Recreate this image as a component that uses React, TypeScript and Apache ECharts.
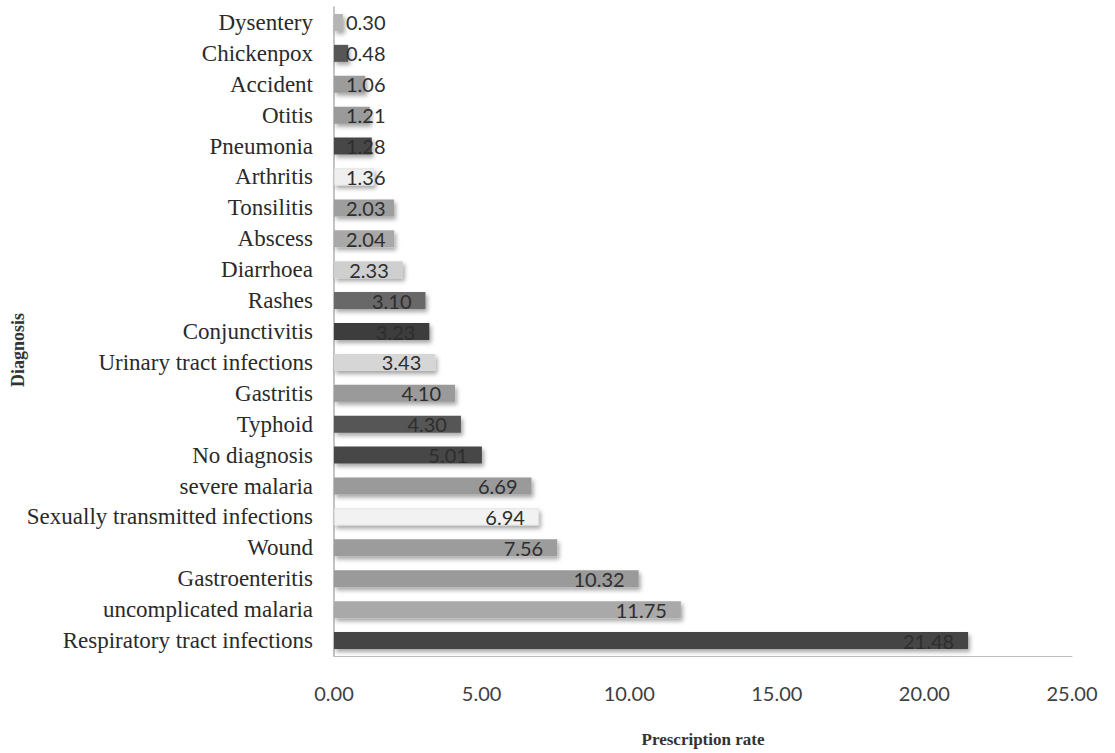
import React, { useEffect, useRef } from "react";
import * as echarts from "echarts";

const categories = [
  "Dysentery",
  "Chickenpox",
  "Accident",
  "Otitis",
  "Pneumonia",
  "Arthritis",
  "Tonsilitis",
  "Abscess",
  "Diarrhoea",
  "Rashes",
  "Conjunctivitis",
  "Urinary tract infections",
  "Gastritis",
  "Typhoid",
  "No diagnosis",
  "severe malaria",
  "Sexually transmitted infections",
  "Wound",
  "Gastroenteritis",
  "uncomplicated malaria",
  "Respiratory tract infections",
];

const values = [
  0.3, 0.48, 1.06, 1.21, 1.28, 1.36, 2.03, 2.04, 2.33, 3.1, 3.23, 3.43, 4.1, 4.3,
  5.01, 6.69, 6.94, 7.56, 10.32, 11.75, 21.48,
];

const barColors = [
  "#b5b5b5", "#575757", "#9c9c9c", "#9a9a9a", "#474747", "#efefef", "#9e9e9e",
  "#a8a8a8", "#cfcfcf", "#686868", "#3c3c3c", "#d6d6d6", "#9a9a9a", "#565656",
  "#474747", "#9a9a9a", "#f2f2f2", "#9c9c9c", "#9a9a9a", "#a9a9a9", "#454545",
];

const xTicks = ["0.00", "5.00", "10.00", "15.00", "20.00", "25.00"];

const SMALL_LIMIT = 2.2;

export default function App() {
  const ref = useRef<HTMLDivElement>(null);
  useEffect(() => {
    if (!ref.current) return;
    const chart = echarts.init(ref.current, null, { renderer: "svg" });
    const data = values.map((v, i) => {
      const small = v < SMALL_LIMIT;
      const pale = barColors[i] === "#f2f2f2" || barColors[i] === "#efefef";
      return {
        value: v,
        itemStyle: {
          color: barColors[i],
          borderColor: pale ? "#d8d8d8" : undefined,
          borderWidth: pale ? 0.6 : 0,
        },
        label: small
          ? { position: [12, "50%"], align: "left", verticalAlign: "middle" }
          : { position: "insideRight", distance: 14 },
      };
    });
    chart.setOption({
      animation: false,
      backgroundColor: "#ffffff",
      grid: { left: 334, right: 43, top: 7, bottom: 89, containLabel: false },
      graphic: [
        {
          type: "text",
          x: 18,
          y: 350,
          rotation: Math.PI / 2,
          style: {
            text: "Diagnosis",
            align: "center",
            verticalAlign: "middle",
            fontFamily: "Liberation Serif",
            fontWeight: "bold",
            fontSize: 18,
            fill: "#333",
          },
        },
      ],
      xAxis: {
        type: "value",
        min: 0,
        max: 25,
        interval: 5,
        name: "Prescription rate",
        nameLocation: "middle",
        nameGap: 75,
        nameTextStyle: {
          fontFamily: "Liberation Serif",
          fontWeight: "bold",
          fontSize: 17,
          color: "#333",
        },
        axisLine: { show: true, lineStyle: { color: "#bdbdbd", width: 1 } },
        axisTick: { show: false },
        splitLine: { show: false },
        axisLabel: {
          margin: 27,
          fontFamily: "Lato",
          fontSize: 20,
          color: "#404040",
          formatter: (v: number) => xTicks[Math.round(v / 5)] ?? v.toFixed(2),
        },
      },
      yAxis: {
        type: "category",
        data: categories,
        inverse: true,
        axisLine: { show: true, lineStyle: { color: "#b0b0b0", width: 1.5 } },
        axisTick: { show: false },
        axisLabel: {
          margin: 21,
          fontFamily: "Liberation Serif",
          fontSize: 23,
          color: "#2a2a2a",
        },
      },
      series: [
        {
          type: "bar",
          data,
          barWidth: 17,
          itemStyle: {
            shadowBlur: 4,
            shadowOffsetX: 2,
            shadowOffsetY: 3,
            shadowColor: "rgba(0,0,0,0.35)",
          },
          label: {
            show: true,
            fontFamily: "Lato",
            fontSize: 20,
            color: "#2e2e2e",
            formatter: (p: any) => Number(p.value).toFixed(2),
          },
        },
      ],
    });
    return () => chart.dispose();
  }, []);
  return (
    <div
      ref={ref}
      style={{ position: "fixed", left: 0, top: 0, width: 1115, height: 753, background: "#fff" }}
    />
  );
}
